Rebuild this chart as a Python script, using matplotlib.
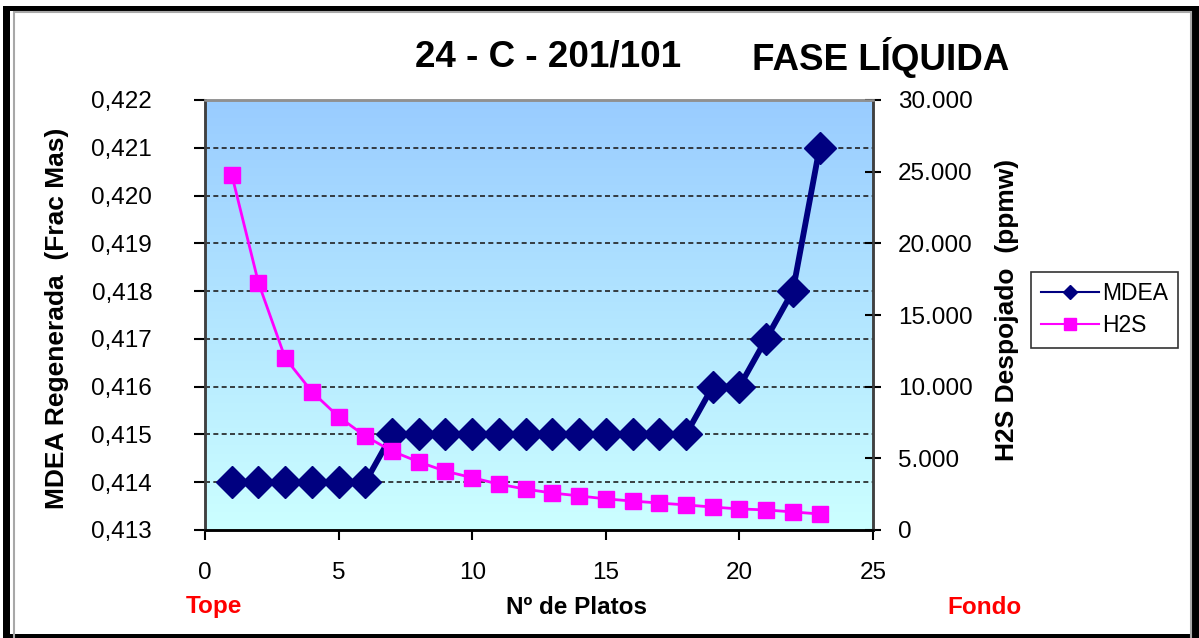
import numpy as np
import matplotlib
matplotlib.use("Agg")
import matplotlib.pyplot as plt
from matplotlib.patches import Rectangle
from matplotlib.ticker import FuncFormatter, MultipleLocator
from matplotlib.colors import LinearSegmentedColormap

plt.rcParams['font.family'] = ['Liberation Sans', 'DejaVu Sans']

# Plate numbers (top to bottom of the column)
platos = list(range(1, 24))

# Regenerated MDEA, mass fraction
mdea = [0.414, 0.414, 0.414, 0.414, 0.414, 0.414,
        0.415, 0.415, 0.415, 0.415, 0.415, 0.415,
        0.415, 0.415, 0.415, 0.415, 0.415, 0.415,
        0.416, 0.416, 0.417, 0.418, 0.421]

# Stripped H2S, ppmw
h2s = [24800, 17250, 12000, 9650, 7900, 6550, 5500, 4750, 4100,
       3650, 3200, 2850, 2580, 2380, 2170, 2020, 1880, 1750,
       1600, 1470, 1400, 1260, 1120]

W, H = 1199, 638
fig = plt.figure(figsize=(W / 100, H / 100), dpi=100)
fig.patch.set_facecolor('white')


def fx(px):
    return px / W


def fy(py):
    return 1 - py / H


def rect(x0, y0, x1, y1, **kw):
    return Rectangle((fx(x0), fy(y1)), fx(x1) - fx(x0), fy(y0) - fy(y1),
                     transform=fig.transFigure, **kw)


# black frame with white chart area and a thin grey inner line
fig.patches.append(rect(3, 6, 1199, 638, facecolor='black', edgecolor='none', zorder=-6))
fig.patches.append(rect(10, 11, 1192, 634, facecolor='white', edgecolor='none', zorder=-5))
fig.patches.append(rect(13.5, 12.5, 1190.5, 640, facecolor='none', edgecolor='#a8a8a8',
                        linewidth=1.5, zorder=-4))

ax = fig.add_axes([fx(205), fy(530), fx(873) - fx(205), fy(100) - fy(530)])
ax.set_facecolor('none')

# vertical gradient background of the plot area
cmap = LinearSegmentedColormap.from_list('bg', ['#ccffff', '#99ccff'])
grad = np.linspace(0, 1, 256).reshape(-1, 1)
ax.imshow(grad, cmap=cmap, aspect='auto', extent=[0, 1, 0, 1],
          transform=ax.transAxes, origin='lower', zorder=0)

ax.set_xlim(0, 25)
ax.set_ylim(0.413, 0.422)
ax.xaxis.set_major_locator(MultipleLocator(5))
ax.yaxis.set_major_locator(MultipleLocator(0.001))
ax.yaxis.set_major_formatter(FuncFormatter(lambda v, p: f"{v:.3f}".replace('.', ',')))

for yv in np.arange(0.414, 0.4215, 0.001):
    ax.axhline(yv, color='#202020', linestyle=(0, (3, 2)), linewidth=1.2, zorder=1)

ax.plot(platos, mdea, color='#000080', linewidth=4.2, marker='D', markersize=16,
        markeredgecolor='#000080', zorder=3, label='MDEA')

ax2 = ax.twinx()
ax2.set_ylim(0, 30000)
ax2.yaxis.set_major_locator(MultipleLocator(5000))
ax2.yaxis.set_major_formatter(FuncFormatter(lambda v, p: f"{int(v):,}".replace(',', '.')))
ax2.plot(platos, h2s, color='#ff00ff', linewidth=2, marker='s', markersize=11,
         markeredgecolor='#ff00ff', zorder=3, label='H2S')

for a in (ax, ax2):
    for s in a.spines.values():
        s.set_color('#404040')
        s.set_linewidth(1.8)
    a.spines['top'].set_color('#909090')
    a.spines['bottom'].set_color('black')

ax.tick_params(axis='y', direction='out', length=8, width=1.5, labelsize=17.5, pad=30)
ax.tick_params(axis='x', direction='out', length=7, width=1.5, labelsize=17.5, pad=16)
ax2.tick_params(axis='y', direction='inout', length=12, width=1.5, labelsize=17.5, pad=12)

fig.text(fx(57), fy(318), 'MDEA Regenerada  (Frac Mas)', rotation=90,
         ha='center', va='center', fontsize=19, fontweight='bold')
fig.text(fx(1007), fy(310), 'H2S Despojado  (ppmw)', rotation=90,
         ha='center', va='center', fontsize=19, fontweight='bold')

fig.text(fx(415), fy(57), '24 - C - 201/101', ha='left', va='center',
         fontsize=26.5, fontweight='bold')
fig.text(fx(752), fy(57), 'FASE LÍQUIDA', ha='left', va='center',
         fontsize=26.5, fontweight='bold')

fig.text(fx(576), fy(607), 'Nº de Platos', ha='center', va='center',
         fontsize=17.5, fontweight='bold')
fig.text(fx(214), fy(607), 'Tope', ha='center', va='center',
         fontsize=17.5, fontweight='bold', color='#ff0000')
fig.text(fx(985), fy(607), 'Fondo', ha='center', va='center',
         fontsize=17.5, fontweight='bold', color='#ff0000')

# legend with small markers
h1 = plt.Line2D([], [], color='#000080', linewidth=1.5, marker='D', markersize=7)
h2 = plt.Line2D([], [], color='#ff00ff', linewidth=1.5, marker='s', markersize=8)
leg = fig.legend([h1, h2], ['MDEA', 'H2S'], loc='upper left',
                 bbox_to_anchor=(fx(1031), fy(272)), fontsize=16.5,
                 frameon=True, fancybox=False, edgecolor='black',
                 handlelength=2.5, handletextpad=0.15, borderpad=0.45,
                 labelspacing=0.4, borderaxespad=0)
leg.get_frame().set_linewidth(1.2)

fig.savefig('out.png', dpi=100, facecolor=fig.get_facecolor())
